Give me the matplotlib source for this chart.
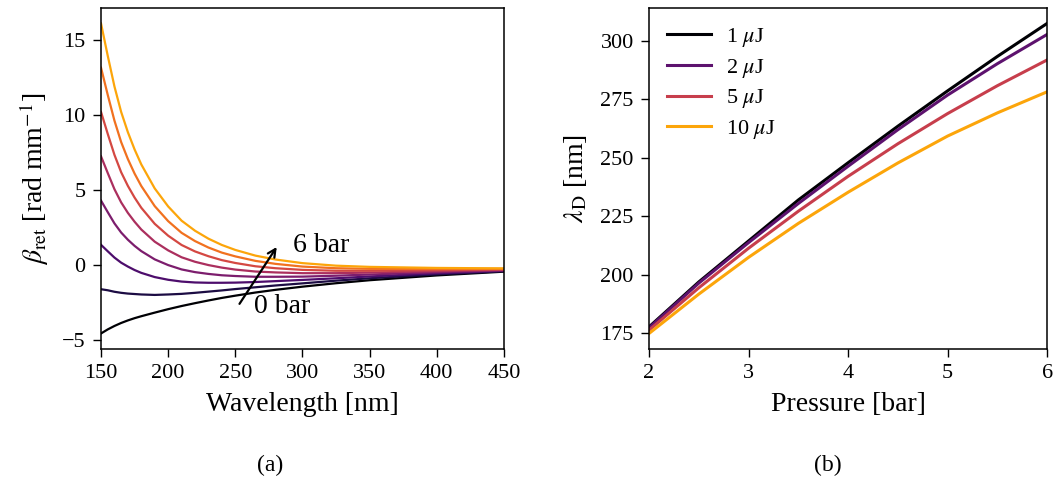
import matplotlib
matplotlib.use('Agg')
import matplotlib.pyplot as plt
import numpy as np

plt.rcParams['font.family'] = ['Liberation Serif', 'DejaVu Serif']
plt.rcParams['mathtext.fontset'] = 'stix'
plt.rcParams['font.size'] = 16

# propagation constant vs wavelength, one curve per pressure step (0 bar -> 6 bar)
wavelength = [150, 155, 160, 165, 170, 175, 180, 190, 200, 210, 220, 230, 240,
              250, 265, 280, 300, 325, 350, 400, 450]
beta_ret = [
    [-4.57, -4.30, -4.07, -3.87, -3.70, -3.55, -3.42, -3.18, -2.95, -2.74, -2.55,
     -2.37, -2.20, -2.05, -1.84, -1.66, -1.45, -1.22, -1.02, -0.70, -0.45],
    [-1.62, -1.69, -1.79, -1.86, -1.91, -1.94, -1.97, -2.00, -1.97, -1.93, -1.86,
     -1.78, -1.70, -1.61, -1.49, -1.37, -1.23, -1.05, -0.89, -0.63, -0.42],
    [1.34, 0.91, 0.49, 0.15, -0.11, -0.34, -0.53, -0.81, -0.99, -1.11, -1.17,
     -1.19, -1.19, -1.18, -1.14, -1.08, -1.00, -0.89, -0.77, -0.56, -0.39],
    [4.29, 3.52, 2.77, 2.16, 1.68, 1.27, 0.92, 0.37, -0.01, -0.30, -0.48,
     -0.60, -0.69, -0.74, -0.79, -0.79, -0.78, -0.72, -0.64, -0.49, -0.36],
    [7.24, 6.13, 5.05, 4.17, 3.47, 2.88, 2.36, 1.55, 0.97, 0.51, 0.21,
     -0.01, -0.18, -0.31, -0.44, -0.50, -0.55, -0.55, -0.51, -0.42, -0.33],
    [10.20, 8.74, 7.34, 6.18, 5.27, 4.49, 3.81, 2.74, 1.95, 1.33, 0.90,
     0.58, 0.32, 0.13, -0.09, -0.22, -0.33, -0.39, -0.39, -0.35, -0.30],
    [13.15, 11.34, 9.62, 8.19, 7.06, 6.09, 5.26, 3.92, 2.92, 2.14, 1.59,
     1.16, 0.82, 0.57, 0.27, 0.07, -0.11, -0.22, -0.26, -0.27, -0.26],
    [16.10, 13.95, 11.90, 10.20, 8.85, 7.70, 6.70, 5.10, 3.90, 2.95, 2.28,
     1.75, 1.33, 1.00, 0.62, 0.36, 0.12, -0.05, -0.13, -0.20, -0.23],
]

# dispersive wave wavelength vs pressure for several pulse energies
pressure = [2, 2.5, 3, 3.5, 4, 4.5, 5, 5.5, 6]
energy_labels = [r'1 $\mu$J', r'2 $\mu$J', r'5 $\mu$J', r'10 $\mu$J']
lambda_d = [
    [177.8, 197.0, 214.5, 232.0, 247.9, 263.5, 278.6, 293.3, 307.4],
    [177.4, 196.5, 213.8, 230.5, 246.4, 262.0, 276.8, 290.2, 302.7],
    [176.4, 194.5, 211.4, 227.2, 242.1, 256.0, 268.9, 280.8, 291.8],
    [175.0, 191.8, 207.5, 222.0, 235.3, 247.8, 259.3, 269.2, 278.2],
]

fig = plt.figure(figsize=(10.6, 4.82), dpi=100)
ax1 = fig.add_axes([0.0953, 0.276, 0.380, 0.7075])
ax2 = fig.add_axes([0.6123, 0.276, 0.3755, 0.7075])

cols1 = plt.cm.inferno(np.linspace(0, 0.8, len(beta_ret)))
for i, b in enumerate(beta_ret):
    ax1.plot(wavelength, b, color=cols1[i], lw=1.6)
ax1.set_xlim(150, 450)
ax1.set_xticks([150, 200, 250, 300, 350, 400, 450])
ax1.set_yticks([-5, 0, 5, 10, 15])
ax1.set_xlabel('Wavelength [nm]', fontsize=20, labelpad=6)
ax1.set_ylabel(r'$\beta_{\mathrm{ret}}$ [rad mm$^{-1}$]', fontsize=20, labelpad=8)
ax1.annotate('', xy=(282, 1.35), xytext=(252, -2.75),
             arrowprops=dict(arrowstyle='->', lw=1.6, color='black', mutation_scale=14))
ax1.text(293, 1.3, '6 bar', fontsize=20, va='center', ha='left')
ax1.text(264, -2.8, '0 bar', fontsize=20, va='center', ha='left')

cols2 = plt.cm.inferno(np.linspace(0, 0.8, len(lambda_d)))
for i, l in enumerate(lambda_d):
    ax2.plot(pressure, l, color=cols2[i], lw=2.2, label=energy_labels[i])
ax2.set_xlim(2, 6)
ax2.set_xticks([2, 3, 4, 5, 6])
ax2.set_yticks([175, 200, 225, 250, 275, 300])
ax2.set_xlabel('Pressure [bar]', fontsize=20, labelpad=6)
ax2.set_ylabel(r'$\lambda_{\mathrm{D}}$ [nm]', fontsize=20, labelpad=8)
ax2.legend(loc='upper left', frameon=False, handlelength=2.0, handletextpad=0.65,
           labelspacing=0.35, fontsize=16, borderaxespad=0.4)

for ax in (ax1, ax2):
    ax.tick_params(direction='out', length=6, width=1, labelsize=16, pad=5)
    for s in ax.spines.values():
        s.set_linewidth(1.1)

fig.text(0.255, 0.035, '(a)', ha='center', va='center', fontsize=17)
fig.text(0.781, 0.035, '(b)', ha='center', va='center', fontsize=17)

fig.savefig('out.png', dpi=100)
